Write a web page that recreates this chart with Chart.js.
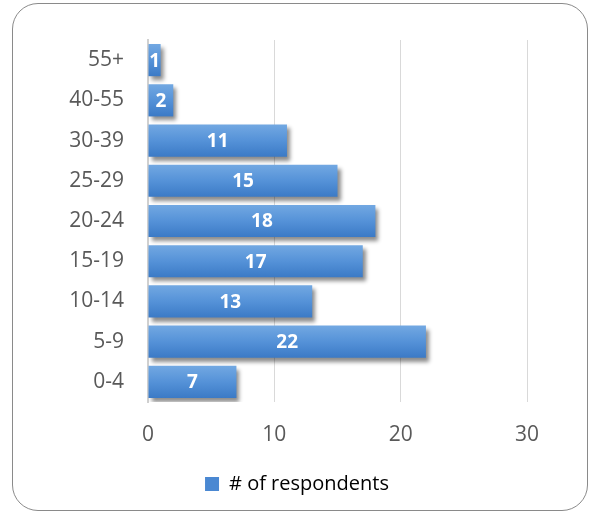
<!DOCTYPE html>
<html>
<head>
<meta charset="utf-8">
<script src="https://cdn.jsdelivr.net/npm/chart.js@4.4.1/dist/chart.umd.min.js"></script>
<style>
    html, body { margin: 0; padding: 0; background: #fff; }
    #wrap { position: relative; width: 590px; height: 513px; }
    #frame {
        position: absolute; left: 12px; top: 3px; width: 574px; height: 506px;
        border: 1.5px solid #8a8a8a; border-radius: 26px; pointer-events: none;
    }
    canvas { position: absolute; left: 0; top: 0; }
</style>
</head>
<body>
<div id="wrap">
    <canvas id="myChart" width="590" height="513"></canvas>
    <div id="frame"></div>
</div>
<script>
const ageGroups = ['55+', '40-55', '30-39', '25-29', '20-24', '15-19', '10-14', '5-9', '0-4'];
const respondents = [1, 2, 11, 15, 18, 17, 13, 22, 7];
const xTicks = [0, 10, 20, 30];
const seriesLabel = '# of respondents';

const FONT = "'Open Sans', 'DejaVu Sans', sans-serif";

/**
 * Vertical blue gradient for one bar, light on top and darker at the bottom.
 */
function barGradient(context)
{
    const chart = context.chart;
    const yScale = chart.scales.y;
    if (!yScale || context.dataIndex === undefined) {
        return '#5592d8';
    }
    const centre = yScale.getPixelForValue(context.dataIndex);
    const half = 16;
    const grad = chart.ctx.createLinearGradient(0, centre - half, 0, centre + half);
    grad.addColorStop(0, '#72a8e2');
    grad.addColorStop(0.5, '#5592d8');
    grad.addColorStop(1, '#3b7ac6');
    return grad;
}

// drop shadow under the bars
const barShadow = {
    id: 'barShadow',
    beforeDatasetDraw(chart) {
        const ctx = chart.ctx;
        ctx.save();
        ctx.shadowColor = 'rgba(0,0,0,0.45)';
        ctx.shadowBlur = 4;
        ctx.shadowOffsetX = 3;
        ctx.shadowOffsetY = 4;
    },
    afterDatasetDraw(chart) {
        chart.ctx.restore();
    }
};

// value printed in the middle of each bar
const valueLabels = {
    id: 'valueLabels',
    afterDatasetsDraw(chart) {
        const ctx = chart.ctx;
        const meta = chart.getDatasetMeta(0);
        const values = chart.data.datasets[0].data;
        ctx.save();
        ctx.font = `bold 19px ${FONT}`;
        ctx.fillStyle = '#ffffff';
        ctx.textAlign = 'center';
        ctx.textBaseline = 'middle';
        meta.data.forEach((bar, i) => {
            const x = (bar.x + bar.base) / 2;
            ctx.fillText(String(values[i]), x, bar.y + 1);
        });
        ctx.restore();
    }
};

// centre the legend on the whole frame rather than on the padded area
const legendCentre = {
    id: 'legendCentre',
    afterLayout(chart) {
        if (chart.legend) {
            chart.legend.left = 12;
            chart.legend.right = 582;
        }
    }
};

const chartData = {
    labels: ageGroups,
    datasets: [{
        label: seriesLabel,
        data: respondents,
        backgroundColor: barGradient,
        borderWidth: 0,
        barPercentage: 0.8,
        categoryPercentage: 1.0
    }]
};

const config = {
    type: 'bar',
    data: chartData,
    options: {
        indexAxis: 'y',
        responsive: false,
        animation: false,
        layout: {
            padding: { top: 40, right: 63, bottom: 9, left: 0 }
        },
        scales: {
            x: {
                min: 0,
                max: 30,
                afterBuildTicks: (scale) => {
                    scale.ticks = xTicks.map(v => ({ value: v }));
                },
                afterFit: (scale) => { scale.height = 62; },
                grid: { color: '#d9d9d9', lineWidth: 1, drawTicks: false },
                border: { display: false },
                ticks: {
                    color: '#595959',
                    padding: 20,
                    font: { family: FONT, size: 21 }
                }
            },
            y: {
                afterFit: (scale) => { scale.width = 148; },
                grid: { display: false, drawTicks: false },
                border: { display: true, color: '#d0d0d0', width: 2 },
                ticks: {
                    color: '#595959',
                    padding: 24,
                    font: { family: FONT, size: 21 }
                }
            }
        },
        plugins: {
            legend: {
                position: 'bottom',
                labels: {
                    color: '#595959',
                    boxWidth: 14,
                    boxHeight: 14,
                    padding: 10,
                    font: { family: FONT, size: 20 },
                    generateLabels: (chart) => [{
                        text: seriesLabel,
                        fillStyle: '#4a88d2',
                        strokeStyle: '#4a88d2',
                        lineWidth: 0,
                        datasetIndex: 0
                    }]
                }
            },
            tooltip: { enabled: false }
        }
    },
    plugins: [barShadow, valueLabels, legendCentre]
};

const ctx = document.getElementById('myChart').getContext('2d');
if (ctx) {
    new Chart(ctx, config);
}
</script>
</body>
</html>
